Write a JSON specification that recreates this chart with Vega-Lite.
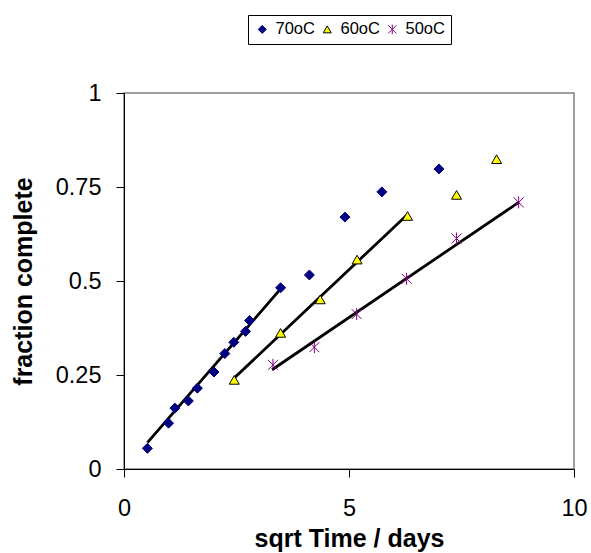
{
  "$schema": "https://vega.github.io/schema/vega-lite/v6.json",
  "width": 450,
  "height": 376,
  "autosize": {"type": "none"},
  "padding": {"left": 124, "top": 93, "right": 17, "bottom": 84},
  "background": "white",
  "config": {
    "font": "Liberation Sans",
    "view": {"stroke": "#808080", "strokeWidth": 1.5}
  },
  "datasets": {
    "pts": [
      {"series": "70oC", "x": 0.52, "y": 0.055},
      {"series": "70oC", "x": 0.99, "y": 0.122},
      {"series": "70oC", "x": 1.13, "y": 0.162},
      {"series": "70oC", "x": 1.43, "y": 0.181},
      {"series": "70oC", "x": 1.63, "y": 0.215},
      {"series": "70oC", "x": 2.0, "y": 0.258},
      {"series": "70oC", "x": 2.24, "y": 0.307},
      {"series": "70oC", "x": 2.44, "y": 0.337},
      {"series": "70oC", "x": 2.7, "y": 0.366},
      {"series": "70oC", "x": 2.79, "y": 0.395},
      {"series": "70oC", "x": 3.48, "y": 0.482},
      {"series": "70oC", "x": 4.12, "y": 0.516},
      {"series": "70oC", "x": 4.91, "y": 0.67},
      {"series": "70oC", "x": 5.73, "y": 0.737},
      {"series": "70oC", "x": 7.0, "y": 0.798},
      {"series": "60oC", "x": 2.45, "y": 0.237},
      {"series": "60oC", "x": 3.48, "y": 0.362},
      {"series": "60oC", "x": 4.36, "y": 0.451},
      {"series": "60oC", "x": 5.18, "y": 0.557},
      {"series": "60oC", "x": 6.3, "y": 0.673},
      {"series": "60oC", "x": 7.39, "y": 0.729},
      {"series": "60oC", "x": 8.28, "y": 0.824},
      {"series": "50oC", "x": 3.31, "y": 0.277},
      {"series": "50oC", "x": 4.23, "y": 0.324},
      {"series": "50oC", "x": 5.17, "y": 0.412},
      {"series": "50oC", "x": 6.28, "y": 0.506},
      {"series": "50oC", "x": 7.39, "y": 0.613},
      {"series": "50oC", "x": 8.77, "y": 0.709}
    ],
    "fits": [
      {"fit": "70oC", "x": 0.52, "y": 0.07},
      {"fit": "70oC", "x": 3.48, "y": 0.479},
      {"fit": "60oC", "x": 2.45, "y": 0.242},
      {"fit": "60oC", "x": 6.3, "y": 0.677},
      {"fit": "50oC", "x": 3.29, "y": 0.264},
      {"fit": "50oC", "x": 8.78, "y": 0.71}
    ]
  },
  "encoding": {
    "x": {
      "field": "x", "type": "quantitative",
      "scale": {"domain": [0, 10], "nice": false, "zero": false},
      "axis": {
        "title": "sqrt Time / days", "values": [0, 5, 10], "grid": false, "labelExpr": "'' + datum.value",
        "domainColor": "black", "tickColor": "black", "tickSize": 8,
        "labelFontSize": 23.5, "labelColor": "black", "labelPadding": 19,
        "labelFont": "Liberation Sans", "labelFlush": false, "labelOverlap": false,
        "titleFont": "Liberation Sans", "titleFontSize": 25, "titleFontWeight": "bold",
        "titleColor": "black", "titlePadding": 7
      }
    },
    "y": {
      "field": "y", "type": "quantitative",
      "scale": {"domain": [0, 1], "nice": false},
      "axis": {
        "title": "fraction complete", "values": [0, 0.25, 0.5, 0.75, 1], "grid": false, "labelExpr": "'' + datum.value",
        "domainColor": "black", "tickColor": "black", "tickSize": 8,
        "labelFontSize": 23.5, "labelColor": "black", "labelPadding": 15,
        "labelFont": "Liberation Sans", "labelFlush": false, "labelOverlap": false,
        "titleFont": "Liberation Sans", "titleFontSize": 25, "titleFontWeight": "bold",
        "titleColor": "black", "titlePadding": 19
      }
    }
  },
  "layer": [
    {
      "data": {"name": "fits"},
      "mark": {"type": "line", "color": "black", "strokeWidth": 2.8},
      "encoding": {"detail": {"field": "fit"}}
    },
    {
      "data": {"name": "pts"},
      "mark": {"type": "point", "filled": false, "strokeWidth": 1, "opacity": 1, "size": 100},
      "encoding": {
        "shape": {
          "field": "series", "type": "nominal",
          "scale": {"domain": ["70oC", "60oC", "50oC"], "range": ["diamond", "triangle-up", "M-1,-1L1,1M-1,1L1,-1M0,-1.2L0,1.2"]},
          "legend": {
            "title": null, "orient": "none", "direction": "horizontal",
            "legendX": 124, "legendY": -78,
            "strokeColor": "black", "fillColor": "white",
            "padding": 6, "labelFontSize": 16.5, "labelFont": "Liberation Sans", "labelColor": "black",
            "symbolSize": 64, "labelOffset": 5, "columnPadding": 4, "symbolStrokeWidth": 1
          }
        },
        "fill": {
          "field": "series", "type": "nominal",
          "scale": {"domain": ["70oC", "60oC", "50oC"], "range": ["#000080", "#FFFF00", "transparent"]}
        },
        "stroke": {
          "field": "series", "type": "nominal",
          "scale": {"domain": ["70oC", "60oC", "50oC"], "range": ["#000080", "#000000", "#800080"]}
        }
      }
    }
  ]
}
